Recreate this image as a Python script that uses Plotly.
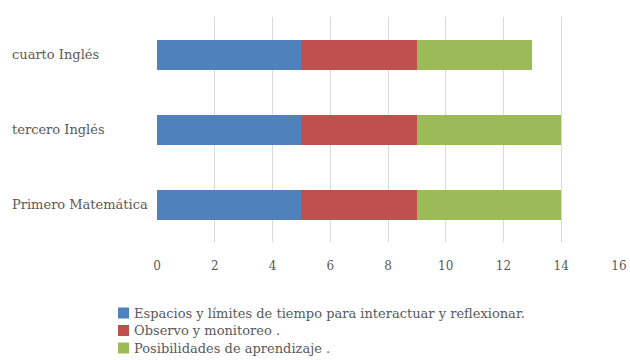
import plotly.graph_objects as go

categories = ["Primero Matemática", "tercero Inglés", "cuarto Inglés"]
series_names = [
    "Espacios y límites de tiempo para interactuar y reflexionar.",
    "Observo y monitoreo .",
    "Posibilidades de aprendizaje .",
]
espacios = [5, 5, 5]
observo = [4, 4, 4]
posibilidades = [5, 5, 4]
colors = ["#4F81BD", "#C0504D", "#9BBB59"]
x_ticks = [0, 2, 4, 6, 8, 10, 12, 14, 16]

FONT = "DejaVu Serif"
TXT = "#595959"

W, H = 630, 360
L, R, T, B = 157, 11, 17, 118
PW, PH = W - L - R, H - T - B


def px_x(x):
    return (x - L) / PW


def px_y(y):
    return (H - B - y) / PH


fig = go.Figure()
for name, vals, col in zip(series_names, [espacios, observo, posibilidades], colors):
    fig.add_trace(go.Bar(
        y=categories, x=vals, name=name, orientation="h",
        marker=dict(color=col, line=dict(width=0)),
        showlegend=False,
    ))

annotations = []
# left-aligned category labels
for c in categories:
    annotations.append(dict(
        x=px_x(10), xref="paper", xanchor="left",
        y=c, yref="y", yanchor="middle",
        text=c, showarrow=False,
        font=dict(family=FONT, size=13, color=TXT),
    ))

# manual legend
shapes = []
leg_y = [313, 330.5, 348]
for name, col, cy in zip(series_names, colors, leg_y):
    shapes.append(dict(
        type="rect", xref="paper", yref="paper",
        x0=px_x(118), x1=px_x(129), y0=px_y(cy - 5.5), y1=px_y(cy + 5.5),
        fillcolor=col, line=dict(width=0),
    ))
    annotations.append(dict(
        x=px_x(132), xref="paper", xanchor="left",
        y=px_y(cy), yref="paper", yanchor="middle",
        text=name, showarrow=False,
        font=dict(family=FONT, size=13, color=TXT),
    ))

fig.update_layout(
    width=W, height=H,
    barmode="stack", bargap=0.6,
    plot_bgcolor="white", paper_bgcolor="white",
    margin=dict(l=L, r=R, t=T, b=B, autoexpand=False),
    font=dict(family=FONT, size=12, color=TXT),
    xaxis=dict(
        range=[0, 16], tickvals=x_ticks, showgrid=True, gridcolor="#D9D9D9",
        gridwidth=1, zeroline=False, showline=False, automargin=False,
        ticks="outside", ticklen=0, ticklabelstandoff=13,
        tickfont=dict(family=FONT, size=12, color=TXT),
    ),
    yaxis=dict(
        categoryorder="array", categoryarray=categories,
        showgrid=False, zeroline=False, showline=False,
        showticklabels=False, automargin=False,
    ),
    annotations=annotations,
    shapes=shapes,
    showlegend=False,
)

fig.write_html("out.html")
